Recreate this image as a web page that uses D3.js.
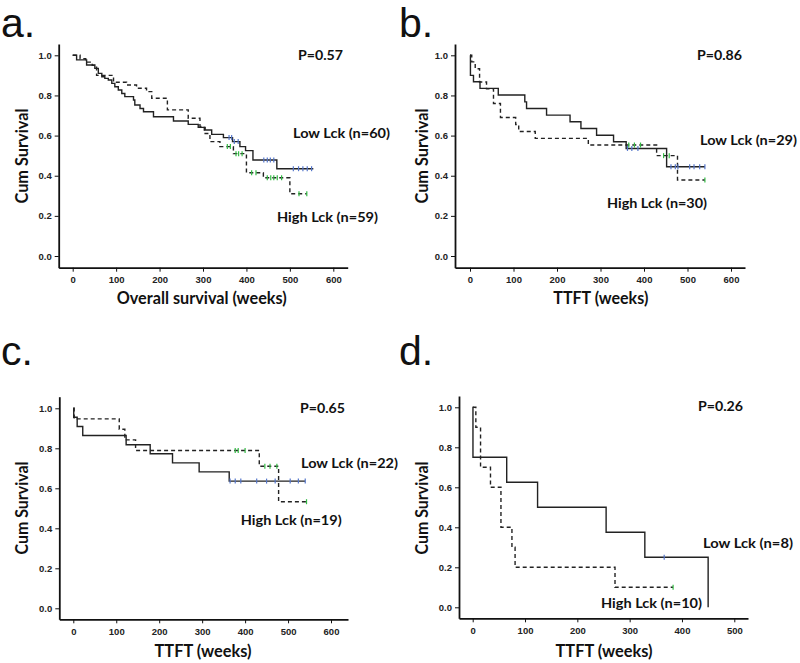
<!DOCTYPE html>
<html><head><meta charset="utf-8">
<script src="https://cdn.jsdelivr.net/npm/d3@7"></script>
<style>body{margin:0;background:#fff} svg{display:block}</style>
</head><body>
<svg id="chart" width="800" height="663"></svg>
<script>
// ---------- DATA ----------
const yTicks = [0, 0.2, 0.4, 0.6, 0.8, 1.0];
const xTicks600 = [0, 100, 200, 300, 400, 500, 600];
const xTicks500 = [0, 100, 200, 300, 400, 500];
const panelLetters = ["a.", "b.", "c.", "d."];
const pValues = ["P=0.57", "P=0.86", "P=0.65", "P=0.26"];
const lowLabels = ["Low Lck (n=60)", "Low Lck (n=29)", "Low Lck (n=22)", "Low Lck (n=8)"];
const highLabels = ["High Lck (n=59)", "High Lck (n=30)", "High Lck (n=19)", "High Lck (n=10)"];
const xTitles = ["Overall survival (weeks)", "TTFT (weeks)", "TTFT (weeks)", "TTFT (weeks)"];
const yTitle = "Cum Survival";

// panel a
const aLowTimes = [0, 9, 32, 51, 59, 67, 74, 82, 90, 97, 105, 113, 120, 140, 143, 155, 163, 186, 232, 266, 289, 305, 320, 347, 368, 385, 398, 415, 470];
const aLowSurv  = [1.0, 0.977, 0.952, 0.935, 0.91, 0.893, 0.885, 0.877, 0.86, 0.843, 0.827, 0.81, 0.794, 0.777, 0.752, 0.735, 0.719, 0.694, 0.673, 0.656, 0.641, 0.628, 0.606, 0.59, 0.57, 0.545, 0.525, 0.478, 0.435];
const aLowEnd = 554;
const aLowCens = [360, 366, 372, 381, 440, 448, 455, 463, 508, 520, 530, 540, 550];
const aHighTimes = [0, 17, 30, 45, 55, 94, 124, 147, 170, 182, 218, 266, 293, 303, 316, 339, 370, 400, 439, 500];
const aHighSurv  = [1.0, 0.983, 0.966, 0.95, 0.90, 0.866, 0.852, 0.836, 0.819, 0.786, 0.728, 0.686, 0.645, 0.61, 0.57, 0.545, 0.51, 0.415, 0.39, 0.31];
const aHighEnd = 539;
const aHighCens = [356, 363, 376, 382, 390, 412, 422, 448, 456, 463, 471, 481, 521, 539];

// panel b
const bLowTimes = [0, 1, 8, 23, 65, 126, 130, 176, 230, 255, 291, 330, 359, 452];
const bLowSurv  = [1.0, 0.90, 0.868, 0.835, 0.802, 0.768, 0.735, 0.702, 0.669, 0.635, 0.602, 0.569, 0.536, 0.445];
const bLowEnd = 540;
const bLowCens = [362, 372, 386, 462, 472, 478, 505, 515, 528, 540];
const bHighTimes = [0, 4, 12, 22, 38, 54, 70, 105, 112, 150, 272, 429, 477];
const bHighSurv  = [1.0, 0.967, 0.933, 0.867, 0.833, 0.76, 0.69, 0.655, 0.62, 0.586, 0.553, 0.50, 0.379];
const bHighEnd = 540;
const bHighCens = [365, 378, 392, 445, 458, 540];

// panel c
const cLowTimes = [0, 1, 9, 22, 123, 179, 231, 293, 363];
const cLowSurv  = [1.0, 0.955, 0.909, 0.864, 0.818, 0.773, 0.727, 0.682, 0.636];
const cLowEnd = 540;
const cLowCens = [365, 377, 390, 427, 450, 470, 505, 524, 540];
const cHighTimes = [0, 2, 107, 120, 145, 433, 478];
const cHighSurv  = [1.0, 0.947, 0.895, 0.842, 0.789, 0.71, 0.533];
const cHighEnd = 543;
const cHighCens = [377, 384, 400, 446, 458, 474, 543];

// panel d
const dLowTimes = [0, 0.5, 65, 124, 255, 329, 450];
const dLowSurv  = [1.0, 0.75, 0.625, 0.5, 0.375, 0.25, 0.0];
const dLowEnd = 450;
const dLowCens = [366];
const dHighTimes = [0, 6, 15, 34, 54, 75, 81, 272];
const dHighSurv  = [1.0, 0.9, 0.7, 0.6, 0.4, 0.3, 0.2, 0.1];
const dHighEnd = 383;
const dHighCens = [383];

// ---------- LAYOUT ----------
const panels = [
  {letter: panelLetters[0], lx: 1, lyBase: 37, xTicks: xTicks600, axL: 58.7, axR: 347.7, axT: 44, axB: 267.7, x0: 72.7, x1: 333.3, xMaxTick: 600, y0: 256, y1: 55.3,
   low: {t: aLowTimes, s: aLowSurv, end: aLowEnd, c: aLowCens}, high: {t: aHighTimes, s: aHighSurv, end: aHighEnd, c: aHighCens},
   p: pValues[0], pPos: [298, 60, 45], lowL: lowLabels[0], lowPos: [293, 138, 97], highL: highLabels[0], highPos: [277, 222, 101],
   xt: xTitles[0], xtPos: [201.7, 304, 170], ytPos: [21.7, 156, 95]},
  {letter: panelLetters[1], lx: 399, lyBase: 37, xTicks: xTicks600, axL: 455, axR: 745, axT: 44, axB: 267.7, x0: 470, x1: 731, xMaxTick: 600, y0: 256, y1: 55.3,
   low: {t: bLowTimes, s: bLowSurv, end: bLowEnd, c: bLowCens}, high: {t: bHighTimes, s: bHighSurv, end: bHighEnd, c: bHighCens},
   p: pValues[1], pPos: [697, 60, 45], lowL: lowLabels[1], lowPos: [700, 145, 97], highL: highLabels[1], highPos: [607, 208, 100],
   xt: xTitles[1], xtPos: [600.8, 304, 95], ytPos: [421.7, 156, 95]},
  {letter: panelLetters[2], lx: 1, lyBase: 365, xTicks: xTicks600, axL: 59.3, axR: 348, axT: 396.7, axB: 619.3, x0: 73.3, x1: 331, xMaxTick: 600, y0: 608.3, y1: 408.3,
   low: {t: cLowTimes, s: cLowSurv, end: cLowEnd, c: cLowCens}, high: {t: cHighTimes, s: cHighSurv, end: cHighEnd, c: cHighCens},
   p: pValues[2], pPos: [300, 413, 45], lowL: lowLabels[2], lowPos: [301, 468, 97], highL: highLabels[2], highPos: [240.7, 525, 101],
   xt: xTitles[2], xtPos: [203, 657, 97], ytPos: [21.7, 508, 93]},
  {letter: panelLetters[3], lx: 399, lyBase: 365, xTicks: xTicks500, axL: 459, axR: 748, axT: 396, axB: 618.3, x0: 472.7, x1: 734.3, xMaxTick: 500, y0: 607.3, y1: 407.3,
   low: {t: dLowTimes, s: dLowSurv, end: dLowEnd, c: dLowCens}, high: {t: dHighTimes, s: dHighSurv, end: dHighEnd, c: dHighCens},
   p: pValues[3], pPos: [698, 411, 45], lowL: lowLabels[3], lowPos: [703, 548, 90], highL: highLabels[3], highPos: [601, 608, 101],
   xt: xTitles[3], xtPos: [604, 657, 97], ytPos: [421.7, 508, 93]}
];

const svg = d3.select("#chart");
const tickFont = "'Liberation Sans', Arial, sans-serif";
const labelFont = "Lato, 'Open Sans', sans-serif";
const LOW_CENS = "#5577cc";
const HIGH_CENS = "#33bb44";

function survAt(series, t) {
  const i = d3.bisectRight(series.t, t) - 1;
  return series.s[Math.max(0, i)];
}

panels.forEach(p => {
  const k = (p.x1 - p.x0) / p.xMaxTick;
  const x = d3.scaleLinear().domain([(p.axL - p.x0) / k, (p.axR - p.x0) / k]).range([p.axL, p.axR]);
  const ky = (p.y0 - p.y1);
  const y = d3.scaleLinear().domain([(p.y0 - p.axB) / ky, (p.y0 - p.axT) / ky]).range([p.axB, p.axT]);
  const g = svg.append("g");

  // panel letter
  svg.append("text").attr("x", p.lx).attr("y", p.lyBase)
    .attr("font-family", "'Liberation Sans', Arial, sans-serif").attr("font-size", 41)
    .attr("fill", "#111").text(p.letter);

  // axes
  const xa = g.append("g").attr("transform", `translate(0,${p.axB})`)
    .call(d3.axisBottom(x).tickValues(p.xTicks).tickSize(4).tickSizeOuter(0).tickPadding(5).tickFormat(d3.format("d")));
  const ya = g.append("g").attr("transform", `translate(${p.axL},0)`)
    .call(d3.axisLeft(y).tickValues(yTicks).tickSize(4).tickSizeOuter(0).tickPadding(3).tickFormat(d3.format(".1f")));
  [xa, ya].forEach(a => {
    a.select(".domain").attr("stroke", "#111").attr("stroke-width", 1.8);
    a.selectAll(".tick line").attr("stroke", "#111").attr("stroke-width", 1);
    a.selectAll("text").attr("font-family", tickFont).attr("font-weight", "bold")
      .attr("font-size", 9.5).attr("fill", "#222");
  });

  // curves
  const line = d3.line().x(d => x(d[0])).y(d => y(d[1])).curve(d3.curveStepAfter);
  function pts(series) {
    const arr = series.t.map((t, i) => [t, series.s[i]]);
    arr.push([series.end, series.s[series.s.length - 1]]);
    return arr;
  }
  g.append("path").datum(pts(p.low)).attr("d", line).attr("fill", "none")
    .attr("stroke", "#222").attr("stroke-width", 1.4);
  g.append("path").datum(pts(p.high)).attr("d", line).attr("fill", "none")
    .attr("stroke", "#222").attr("stroke-width", 1.4).attr("stroke-dasharray", "4,3");

  // censor marks
  [[p.low, LOW_CENS], [p.high, HIGH_CENS]].forEach(([series, col]) => {
    g.selectAll(null).data(series.c).enter().append("line")
      .attr("x1", d => x(d)).attr("x2", d => x(d))
      .attr("y1", d => y(survAt(series, d)) - 2.5).attr("y2", d => y(survAt(series, d)) + 2.5)
      .attr("stroke", col).attr("stroke-width", 1.2);
  });

  // labels
  function lab(txt, pos, size) {
    g.append("text").attr("x", pos[0]).attr("y", pos[1]).text(txt)
      .attr("font-family", labelFont).attr("font-weight", "bold").attr("font-size", size)
      .attr("fill", "#111").attr("textLength", pos[2]).attr("lengthAdjust", "spacingAndGlyphs");
  }
  lab(p.p, p.pPos, 14);
  lab(p.lowL, p.lowPos, 14);
  lab(p.highL, p.highPos, 14);

  g.append("text").attr("x", p.xtPos[0]).attr("y", p.xtPos[1]).attr("text-anchor", "middle")
    .attr("font-family", labelFont).attr("font-weight", "bold").attr("font-size", 16.5)
    .attr("fill", "#111").attr("textLength", p.xtPos[2]).attr("lengthAdjust", "spacingAndGlyphs").text(p.xt);
  g.append("text").attr("transform", `translate(${p.ytPos[0] + 6},${p.ytPos[1]}) rotate(-90)`)
    .attr("text-anchor", "middle")
    .attr("font-family", labelFont).attr("font-weight", "bold").attr("font-size", 16.5)
    .attr("fill", "#111").attr("textLength", p.ytPos[2]).attr("lengthAdjust", "spacingAndGlyphs").text(yTitle);
});
</script>
</body></html>
